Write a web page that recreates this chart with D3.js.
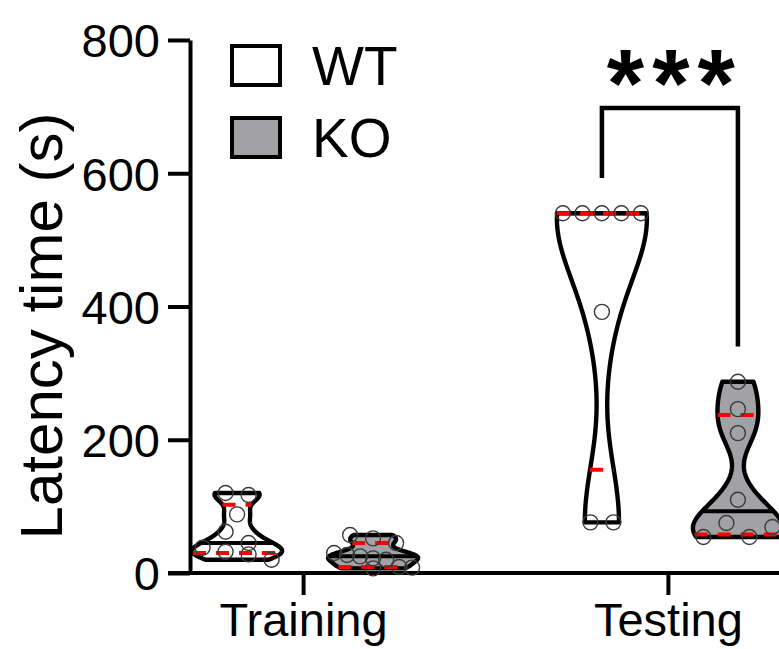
<!DOCTYPE html>
<html><head><meta charset="utf-8">
<script src="https://cdn.jsdelivr.net/npm/d3@7"></script>
<style>
body{margin:0;background:#fff}
svg{display:block}
text{font-family:"Liberation Sans",Arial,sans-serif;fill:#000}
</style>
</head><body>
<svg id="chart" width="779" height="649"></svg>
<script>
// ---------- data ----------
const categories = ["Training", "Testing"];
const groups = ["WT", "KO"];
const yTicks = [0, 200, 400, 600, 800];
const wtTraining = [120, 117, 88, 62, 45, 38, 32, 28, 20];
const koTraining = [57, 52, 45, 30, 27, 25, 22, 20, 9, 8, 7];
const wtTesting = [540, 540, 540, 540, 540, 392, 76, 76];
const koTesting = [287, 246, 210, 110, 54, 75, 54, 69];
const bandwidths = [12, 8, 90, 30];   // KDE smoothing, same order as series
const yTitle = "Latency time (s)";
const significance = "***";

const series = [
  {cat: "Training", grp: "WT", values: wtTraining, bw: bandwidths[0]},
  {cat: "Training", grp: "KO", values: koTraining, bw: bandwidths[1]},
  {cat: "Testing",  grp: "WT", values: wtTesting,  bw: bandwidths[2]},
  {cat: "Testing",  grp: "KO", values: koTesting,  bw: bandwidths[3]}
];

// ---------- setup ----------
const svg = d3.select("#chart");
const fill = {WT: "#ffffff", KO: "#a2a2a6"};
const y = d3.scaleLinear().domain([0, 800]).range([573, 40]);
const x = d3.scalePoint().domain(categories).range([190, 781]).padding(0.31);
const xg = d3.scalePoint().domain(groups).range([-66, 70]);
const maxHalf = 45, r = 7.5;

function kde(vals, bw, v) {
  return d3.sum(vals, d => Math.exp(-0.5 * ((v - d) / bw) ** 2));
}
function q6(sorted, p) {
  const n = sorted.length, h = (n + 1) * p, lo = Math.floor(h);
  if (lo < 1) return sorted[0];
  if (lo >= n) return sorted[n - 1];
  return sorted[lo - 1] + (h - lo) * (sorted[lo] - sorted[lo - 1]);
}

// ---------- axes ----------
const yAxis = svg.append("g").attr("transform", "translate(190,0)")
  .call(d3.axisLeft(y).tickValues(yTicks).tickSize(22).tickSizeOuter(0).tickPadding(8));
yAxis.select(".domain").attr("stroke-width", 4).attr("stroke", "#000");
yAxis.selectAll(".tick line").attr("stroke-width", 4).attr("stroke", "#000");
yAxis.selectAll(".tick text").attr("font-size", 47).attr("dy", "0.36em");

const xAxis = svg.append("g").attr("transform", "translate(0,573)")
  .call(d3.axisBottom(x).tickSize(22).tickSizeOuter(0).tickPadding(8));
xAxis.select(".domain").attr("d", "M168,0H781").attr("stroke-width", 4).attr("stroke", "#000");
xAxis.selectAll(".tick line").attr("stroke-width", 4).attr("stroke", "#000");
xAxis.selectAll(".tick text").attr("font-size", 47);

svg.append("text")
  .attr("transform", "translate(62,326) rotate(-90)")
  .attr("text-anchor", "middle").attr("font-size", 60).text(yTitle);

// ---------- violins ----------
series.forEach(s => {
  const cx = x(s.cat) + xg(s.grp);
  const sorted = s.values.slice().sort(d3.ascending);
  const lo = sorted[0], hi = sorted[sorted.length - 1];
  const N = 160;
  const pts = d3.range(N + 1).map(i => {
    const v = lo + (hi - lo) * i / N;
    return {v, d: kde(s.values, s.bw, v)};
  });
  const dMax = d3.max(pts, p => p.d);
  const w = d3.scaleLinear().domain([0, dMax]).range([0, maxHalf]);
  const half = v => w(kde(s.values, s.bw, v));

  const area = d3.area().y(p => y(p.v)).x0(p => cx - w(p.d)).x1(p => cx + w(p.d));
  const g = svg.append("g");
  g.append("path").attr("d", area(pts))
    .attr("fill", fill[s.grp]).attr("stroke", "#000")
    .attr("stroke-width", 4.4).attr("stroke-linejoin", "round");

  const med = d3.median(sorted);
  g.append("line").attr("x1", cx - half(med)).attr("x2", cx + half(med))
    .attr("y1", y(med)).attr("y2", y(med))
    .attr("stroke", "#000").attr("stroke-width", 4);
  [0.25, 0.75].forEach(p => {
    const q = q6(sorted, p);
    g.append("line").attr("x1", cx - half(q)).attr("x2", cx + half(q))
      .attr("y1", y(q)).attr("y2", y(q))
      .attr("stroke", "#ff0000").attr("stroke-width", 4)
      .attr("stroke-dasharray", "13,10");
  });

  // scatter: group points close in pixel height, spread evenly
  const idx = s.values.map((v, i) => ({v, i})).sort((a, b) => b.v - a.v || a.i - b.i);
  const grpsArr = [];
  idx.forEach(p => {
    const last = grpsArr[grpsArr.length - 1];
    if (last && Math.abs(y(p.v) - y(last[0].v)) < 2 * r) last.push(p);
    else grpsArr.push([p]);
  });
  grpsArr.forEach(gr => {
    gr.sort((a, b) => a.i - b.i);
    const n = gr.length;
    const spacing = n > 1 ? Math.min(23, 78 / (n - 1)) : 0;
    gr.forEach((p, k) => {
      g.append("circle")
        .attr("cx", cx + (k - (n - 1) / 2) * spacing)
        .attr("cy", y(p.v)).attr("r", r)
        .attr("fill", "none").attr("stroke", "#3a3a3a").attr("stroke-width", 1.4);
    });
  });
});

// ---------- significance bracket ----------
const xa = x("Testing") + xg("WT"), xb = x("Testing") + xg("KO");
const topV = 698;
svg.append("path")
  .attr("d", `M${xa},${y(d3.max(wtTesting) + 53)}V${y(topV)}H${xb}V${y(d3.max(koTesting) + 53)}`)
  .attr("fill", "none").attr("stroke", "#000").attr("stroke-width", 4.5);
svg.append("text").attr("x", (xa + xb) / 2 + 5).attr("y", 116)
  .attr("text-anchor", "middle").attr("font-size", 96).attr("font-weight", "bold")
  .attr("letter-spacing", 8).text(significance);

// ---------- legend ----------
const leg = svg.append("g");
groups.forEach((gname, i) => {
  leg.append("rect").attr("x", 232).attr("y", 46 + i * 72).attr("width", 48).attr("height", 39)
    .attr("fill", fill[gname]).attr("stroke", "#000").attr("stroke-width", 4);
  leg.append("text").attr("x", 312).attr("y", 85 + i * 72).attr("font-size", 55).text(gname);
});
</script>
</body></html>
